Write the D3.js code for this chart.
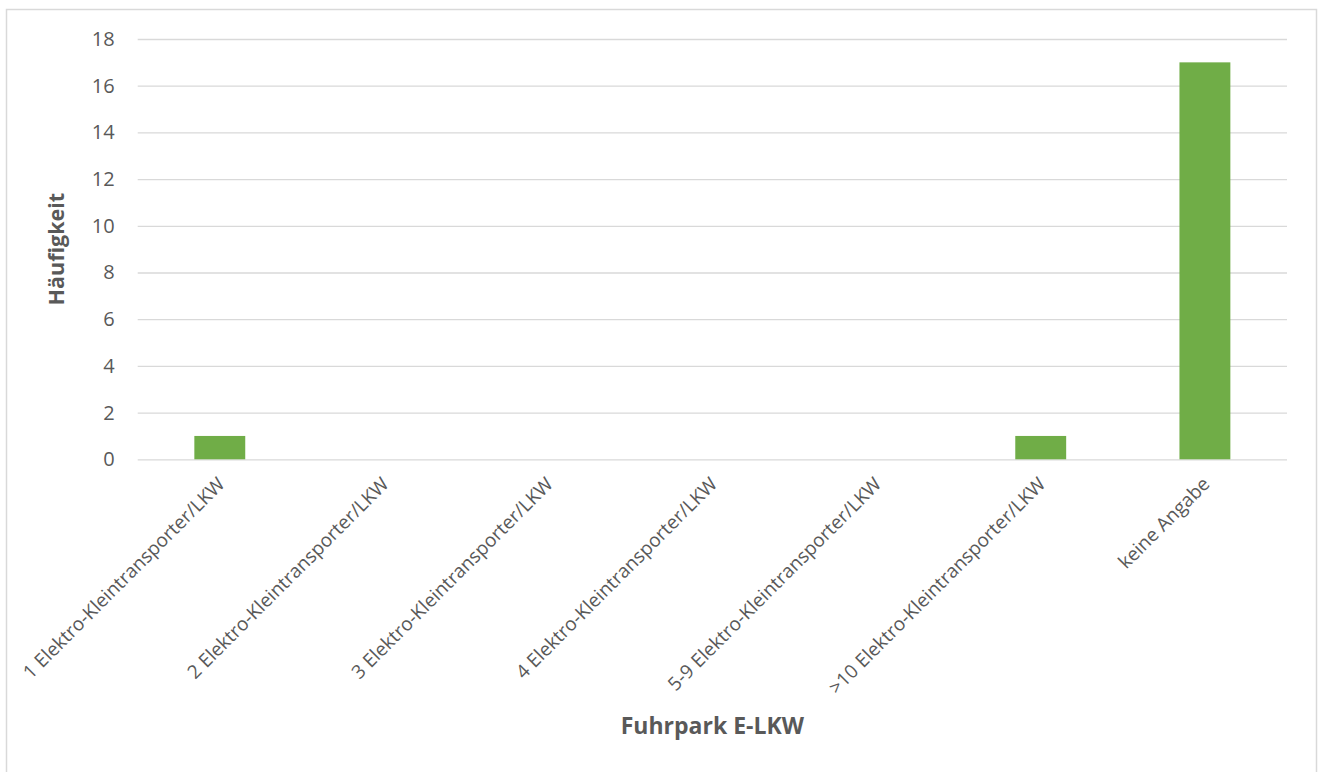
<!DOCTYPE html>
<html>
<head>
<meta charset="utf-8">
<script src="https://cdn.jsdelivr.net/npm/d3@7"></script>
<style>
  html, body { margin: 0; padding: 0; background: #fff; }
  svg { display: block; }
</style>
</head>
<body>
<svg id="chart" width="1327" height="772"></svg>
<script>
// Fleet of electric vans / trucks: number of answers per category
const categories = [
  "1 Elektro-Kleintransporter/LKW",
  "2 Elektro-Kleintransporter/LKW",
  "3 Elektro-Kleintransporter/LKW",
  "4 Elektro-Kleintransporter/LKW",
  "5-9 Elektro-Kleintransporter/LKW",
  ">10 Elektro-Kleintransporter/LKW",
  "keine Angabe"
];
const counts = [1, 0, 0, 0, 0, 1, 17];
const yTicks = [0, 2, 4, 6, 8, 10, 12, 14, 16, 18];
const yTitle = "Häufigkeit";
const xTitle = "Fuhrpark E-LKW";

const W = 1327, H = 772;
const plot = { left: 137.7, right: 1287, top: 39, bottom: 459.3 };
const font = "'Open Sans', 'Liberation Sans', sans-serif";
const textColor = "#595959";
const gridColor = "#D9D9D9";
const barColor = "#70AD47";

const svg = d3.select("#chart");

// outer chart frame
svg.append("rect")
  .attr("x", 6.5).attr("y", 9.5)
  .attr("width", 1310).attr("height", 775)
  .attr("fill", "#fff")
  .attr("stroke", gridColor).attr("stroke-width", 1.5);

const x = d3.scaleBand()
  .domain(categories)
  .range([plot.left, plot.right])
  .paddingInner(0.69)
  .paddingOuter(0.345);

const y = d3.scaleLinear()
  .domain([0, 18])
  .range([plot.bottom, plot.top]);

// horizontal gridlines + value labels
const yAxis = d3.axisLeft(y)
  .tickValues(yTicks)
  .tickSize(-(plot.right - plot.left))
  .tickPadding(23)
  .tickFormat(d3.format("d"));

const gy = svg.append("g")
  .attr("transform", `translate(${plot.left},0)`)
  .call(yAxis);
gy.select(".domain").remove();
gy.selectAll(".tick line").attr("stroke", gridColor).attr("stroke-width", 1.3);
gy.selectAll(".tick text")
  .attr("fill", textColor)
  .style("font-family", font)
  .style("font-size", "20px");

// bars
svg.append("g")
  .selectAll("rect")
  .data(counts)
  .join("rect")
  .attr("x", (d, i) => x(categories[i]))
  .attr("y", d => y(d))
  .attr("width", x.bandwidth())
  .attr("height", d => y(0) - y(d))
  .attr("fill", barColor);

// category labels, rotated
const gx = svg.append("g")
  .attr("transform", `translate(0,${plot.bottom})`)
  .call(d3.axisBottom(x).tickSize(0).tickPadding(0));
gx.select(".domain").remove();
gx.selectAll(".tick text")
  .attr("fill", textColor)
  .style("font-family", font)
  .style("font-size", "19px")
  .attr("text-anchor", "end")
  .attr("dy", null)
  .attr("y", null)
  .attr("transform", "translate(6,26) rotate(-45)");

// axis titles
svg.append("text")
  .attr("transform", `translate(64,${(plot.top + plot.bottom) / 2}) rotate(-90)`)
  .attr("text-anchor", "middle")
  .attr("fill", textColor)
  .style("font-family", font)
  .style("font-size", "21.5px")
  .style("font-weight", "bold")
  .text(yTitle);

svg.append("text")
  .attr("x", (plot.left + plot.right) / 2)
  .attr("y", 733.5)
  .attr("text-anchor", "middle")
  .attr("fill", textColor)
  .style("font-family", font)
  .style("font-size", "23px")
  .style("font-weight", "bold")
  .text(xTitle);
</script>
</body>
</html>
